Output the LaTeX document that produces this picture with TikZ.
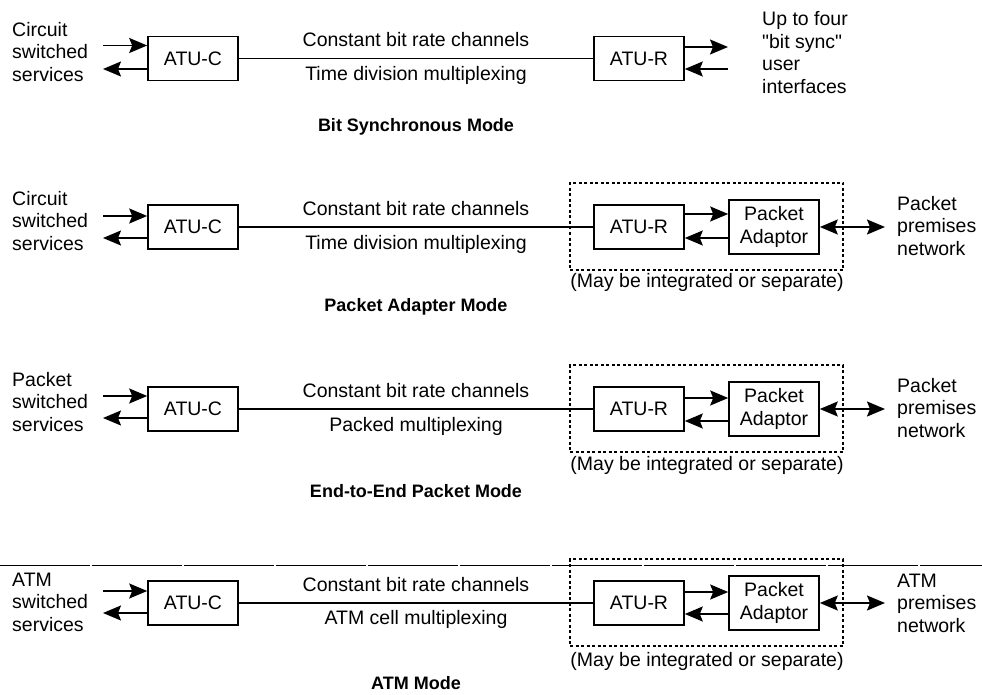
\documentclass[tikz,border=0pt]{standalone}
\usepackage{fontspec}
\setmainfont{Liberation Sans}
\usetikzlibrary{arrows.meta}

\tikzset{
  unit/.style={draw, line width=1.6pt, minimum width=90pt, minimum height=44pt,
    inner sep=0pt, font=\fontsize{19.5}{22.5}\selectfont},
  adaptor/.style={unit, minimum height=54pt, align=center},
  lbl/.style={inner sep=0pt, font=\fontsize{19.5}{22.5}\selectfont},
  side/.style={lbl, align=left, anchor=west},
  modetitle/.style={inner sep=0pt, font=\bfseries\fontsize{18}{20}\selectfont},
  sig/.style={line width=1.8pt, -{Stealth[length=18pt,width=15pt,inset=3pt]}},
  sigboth/.style={line width=1.8pt,
    {Stealth[length=18pt,width=15pt,inset=3pt]}-{Stealth[length=18pt,width=15pt,inset=3pt]}},
  link/.style={line width=1.3pt},
  group/.style={draw, line width=1.3pt, dash pattern=on 3pt off 2.5pt,
    minimum width=273pt, minimum height=87pt, inner sep=0pt}
}

\begin{document}
\begin{tikzpicture}[x=1pt,y=-1pt]
\useasboundingbox (0,0) rectangle (982,695);
\fill[white] (0,0) rectangle (982,695);

% ---------- Bit synchronous mode ----------
\node[unit] (c1) at (193,58.5) {ATU-C};
\node[unit] (r1) at (639,58.5) {ATU-R};
\draw[link] (c1) -- (r1);
\node[lbl] (t1a) at (416,40) {Constant bit rate channels};
\node[lbl] (t1b) at (416,75) {Time division multiplexing};
\node[side] (s1) at (12,52) {Circuit\\switched\\services};
\coordinate (l1a) at (103,45.5);
\coordinate (l1b) at (103,69);
\draw[sig] (l1a) -- (l1a -| c1.west);
\draw[sig] (l1b -| c1.west) -- (l1b);
\coordinate (e1a) at (728,47);
\coordinate (e1b) at (728,69);
\draw[sig] (e1a -| r1.east) -- (e1a);
\draw[sig] (e1b) -- (e1b -| r1.east);
\node[side] (u1) at (762,52.5) {Up to four\\\textquotedbl bit sync\textquotedbl\\user\\interfaces};
\node[modetitle] (m1) at (416,127) {Bit Synchronous Mode};

% ---------- Packet adapter mode ----------
\node[unit] (c2) at (193,227) {ATU-C};
\node[unit] (r2) at (639,227) {ATU-R};
\node[adaptor] (p2) at (774,227) {Packet\\Adaptor};
\node[group] (g2) at (706.5,226.5) {};
\draw[link] (c2) -- (r2);
\node[lbl] (t2a) at (416,209) {Constant bit rate channels};
\node[lbl] (t2b) at (416,244) {Time division multiplexing};
\node[side] (s2) at (12,221) {Circuit\\switched\\services};
\coordinate (l2a) at (103,216);
\coordinate (l2b) at (103,238);
\draw[sig] (l2a) -- (l2a -| c2.west);
\draw[sig] (l2b -| c2.west) -- (l2b);
\coordinate (a2) at (0,214);
\coordinate (b2) at (0,238);
\draw[sig] (a2 -| r2.east) -- (a2 -| p2.west);
\draw[sig] (b2 -| p2.west) -- (b2 -| r2.east);
\coordinate (n2) at (885,227);
\draw[sigboth] (p2.east) -- (n2);
\node[side] (u2) at (897,226) {Packet\\premises\\network};
\node[lbl] (x2) at (707,282) {(May be integrated or separate)};
\node[modetitle] (m2) at (416,307) {Packet Adapter Mode};

% ---------- End-to-end packet mode ----------
\node[unit] (c3) at (193,409) {ATU-C};
\node[unit] (r3) at (639,409) {ATU-R};
\node[adaptor] (p3) at (774,409) {Packet\\Adaptor};
\node[group] (g3) at (706.5,408.5) {};
\draw[link] (c3) -- (r3);
\node[lbl] (t3a) at (416,391) {Constant bit rate channels};
\node[lbl] (t3b) at (416,426) {Packed multiplexing};
\node[side] (s3) at (12,402) {Packet\\switched\\services};
\coordinate (l3a) at (103,396);
\coordinate (l3b) at (103,418);
\draw[sig] (l3a) -- (l3a -| c3.west);
\draw[sig] (l3b -| c3.west) -- (l3b);
\coordinate (a3) at (0,398);
\coordinate (b3) at (0,421);
\draw[sig] (a3 -| r3.east) -- (a3 -| p3.west);
\draw[sig] (b3 -| p3.west) -- (b3 -| r3.east);
\coordinate (n3) at (885,409);
\draw[sigboth] (p3.east) -- (n3);
\node[side] (u3) at (897,408) {Packet\\premises\\network};
\node[lbl] (x3) at (707,465) {(May be integrated or separate)};
\node[modetitle] (m3) at (416,491) {End-to-End Packet Mode};

% ---------- ATM mode ----------
\draw[line width=1pt, dash pattern=on 90pt off 2pt] (0,565.5) -- (982,565.5);
\node[unit] (c4) at (193,603) {ATU-C};
\node[unit] (r4) at (639,603) {ATU-R};
\node[adaptor] (p4) at (774,603) {Packet\\Adaptor};
\node[group] (g4) at (706.5,602.5) {};
\draw[link] (c4) -- (r4);
\node[lbl] (t4a) at (416,585) {Constant bit rate channels};
\node[lbl] (t4b) at (416,619) {ATM cell multiplexing};
\node[side] (s4) at (12,602) {ATM\\switched\\services};
\coordinate (l4a) at (103,591);
\coordinate (l4b) at (103,613);
\draw[sig] (l4a) -- (l4a -| c4.west);
\draw[sig] (l4b -| c4.west) -- (l4b);
\coordinate (a4) at (0,592);
\coordinate (b4) at (0,614);
\draw[sig] (a4 -| r4.east) -- (a4 -| p4.west);
\draw[sig] (b4 -| p4.west) -- (b4 -| r4.east);
\coordinate (n4) at (885,603);
\draw[sigboth] (p4.east) -- (n4);
\node[side] (u4) at (897,603) {ATM\\premises\\network};
\node[lbl] (x4) at (707,661) {(May be integrated or separate)};
\node[modetitle] (m4) at (416,683) {ATM Mode};
\end{tikzpicture}
\end{document}
